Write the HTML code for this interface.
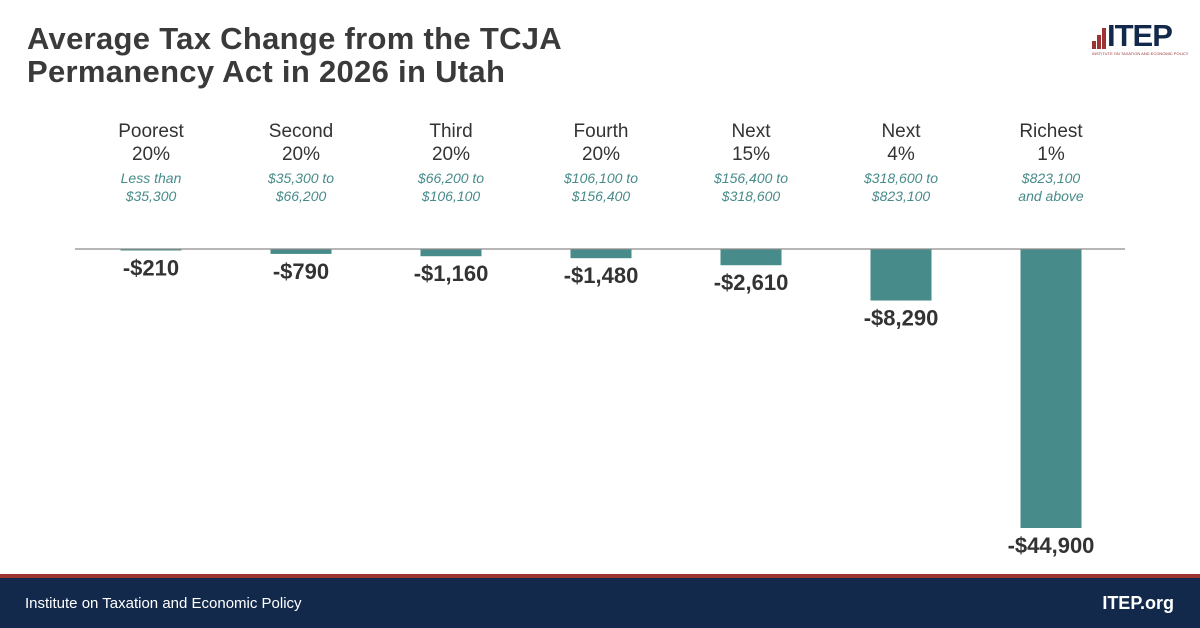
<!DOCTYPE html>
<html><head><meta charset="utf-8"><style>
body{margin:0;width:1200px;height:628px;background:#fff;font-family:"Liberation Sans",sans-serif;position:relative;overflow:hidden}
#title{position:absolute;left:27px;top:22px;font-size:31px;font-weight:bold;color:#3a3a3a;line-height:33px;letter-spacing:0.3px}
#footer{position:absolute;left:0;top:578px;width:1200px;height:50px;background:#13294b;color:#fff}
#redline{position:absolute;left:0;top:574px;width:1200px;height:4px;background:#9c3434}
</style></head><body>
<div id="title">Average Tax Change from the TCJA<br>Permanency Act in 2026 in Utah</div>
<div style="position:absolute;left:1092px;top:20px;width:90px;height:35px">
<div style="position:absolute;left:0;top:21px;width:4px;height:8px;background:#9c3434"></div>
<div style="position:absolute;left:5px;top:15px;width:4px;height:14px;background:#9c3434"></div>
<div style="position:absolute;left:10px;top:8px;width:4px;height:21px;background:#9c3434"></div>
<div style="position:absolute;left:15px;top:0px;font-size:31px;font-weight:bold;color:#13294b;line-height:31px;letter-spacing:-1px">ITEP</div>
<div style="position:absolute;left:0;top:31px;font-size:4px;color:#9c3434;white-space:nowrap">INSTITUTE ON TAXATION AND ECONOMIC POLICY</div>
</div>
<svg id="chart" width="1200" height="574" style="position:absolute;left:0;top:0"></svg>
<div id="redline"></div>
<div id="footer">
<span style="position:absolute;left:25px;top:17px;font-size:15px">Institute on Taxation and Economic Policy</span>
<span style="position:absolute;right:26px;top:15px;font-size:18px;font-weight:bold">ITEP.org</span>
</div>
<script>
const groups=["Poorest","Second","Third","Fourth","Next","Next","Richest"];
const shares=["20%","20%","20%","20%","15%","4%","1%"];
const ranges1=["Less than","$35,300 to","$66,200 to","$106,100 to","$156,400 to","$318,600 to","$823,100"];
const ranges2=["$35,300","$66,200","$106,100","$156,400","$318,600","$823,100","and above"];
const values=[-210,-790,-1160,-1480,-2610,-8290,-44900];
const labels=["-$210","-$790","-$1,160","-$1,480","-$2,610","-$8,290","-$44,900"];
const svg=document.getElementById('chart');
const NS='http://www.w3.org/2000/svg';
const y0=249, scale=279/44900;
function x(i){return 151+i*150;}
function y(v){return y0-v*scale;}
function mk(tag,attrs,txt){const e=document.createElementNS(NS,tag);for(const k in attrs)e.setAttribute(k,attrs[k]);if(txt!==undefined)e.textContent=txt;svg.appendChild(e);return e;}
values.forEach((v,i)=>{
 const cx=x(i);
 const h=Math.max(y(v)-y0,1.5);
 const b=mk('rect',{x:cx-30.5,y:y0,width:61,height:h,fill:'#478b8a'});
 
 
 const t=mk('text',{x:cx,y:y0+h+25,'text-anchor':'middle','font-size':22,'font-weight':'bold',fill:'#333','font-family':'Liberation Sans'},labels[i]);
 
 
 const g1=mk('text',{x:cx,y:137,'text-anchor':'middle','font-size':19,fill:'#333','font-family':'Liberation Sans'},groups[i]);
 
 
 const g2=mk('text',{x:cx,y:160,'text-anchor':'middle','font-size':19,fill:'#333','font-family':'Liberation Sans'},shares[i]);
 
 
 const r1=mk('text',{x:cx,y:183,'text-anchor':'middle','font-size':14,'font-style':'italic',fill:'#478b8a','font-family':'Liberation Sans'},ranges1[i]);
 
 
 const r2=mk('text',{x:cx,y:201,'text-anchor':'middle','font-size':14,'font-style':'italic',fill:'#478b8a','font-family':'Liberation Sans'},ranges2[i]);
 
 
});
const ax=mk('line',{x1:75,x2:1125,y1:y0,y2:y0,stroke:'#8a8a8a','stroke-width':1.2});


</script>
</body></html>
